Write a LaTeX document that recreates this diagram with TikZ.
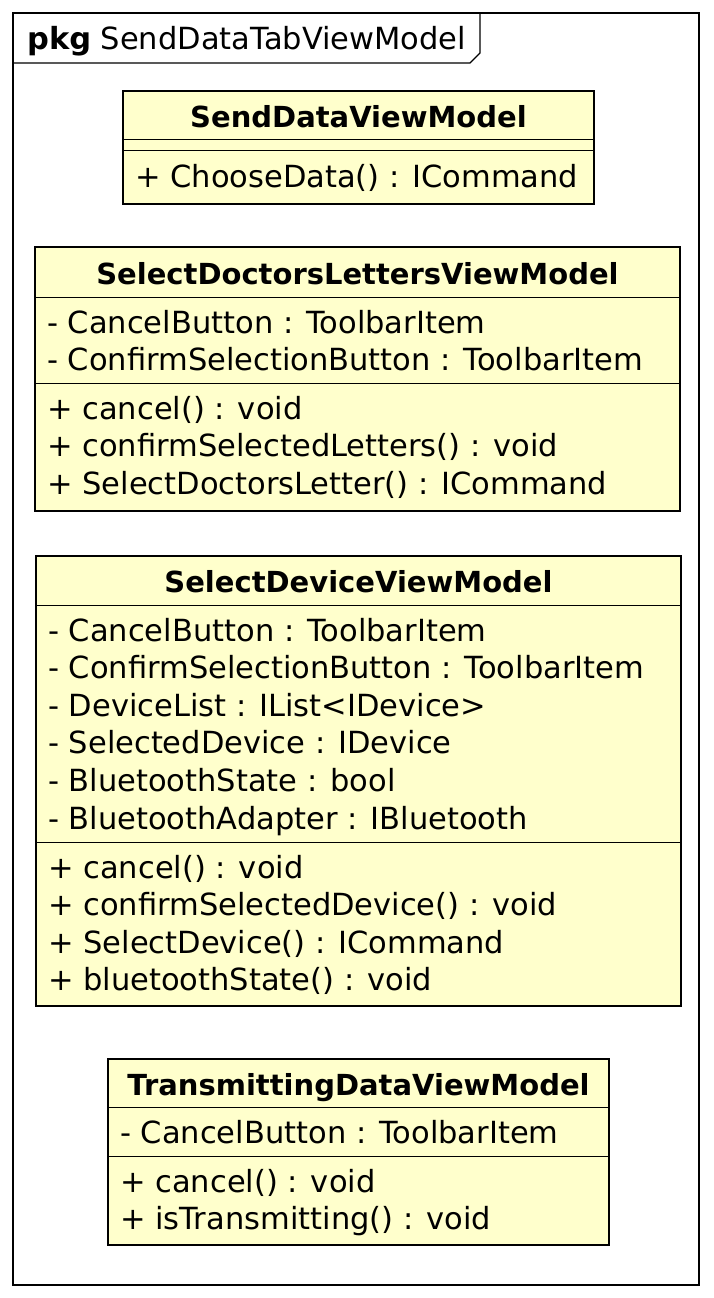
\documentclass[tikz,border=0pt]{standalone}
\usepackage{fontspec}
\setmainfont{DejaVu Sans}
\definecolor{umlfill}{HTML}{FFFFCC}
\tikzset{
  classbox/.style={draw, line width=2.9pt, fill=umlfill, anchor=north west, inner sep=0pt, outer sep=0pt},
  sepline/.style={line width=0.9pt},
  member/.style={anchor=base west, inner sep=0pt, font=\fontsize{30.5}{36}\selectfont},
  ctitle/.style={anchor=base, inner sep=0pt, font=\bfseries\fontsize{29}{36}\selectfont},
  frameline/.style={line width=1.3pt},
}
\begin{document}
\begin{tikzpicture}[x=1pt,y=-1pt]
\useasboundingbox (0,0) rectangle (713,1298);
% package frame
\node[draw, frameline, anchor=north west, minimum width=686pt, minimum height=1272pt, inner sep=0pt, outer sep=0pt] (pkg) at (13,13) {};
\coordinate (tabA) at (13,63);
\coordinate (tabB) at (470,63);
\coordinate (tabC) at (480,53);
\coordinate (tabD) at (480,13);
\draw[frameline] (tabA) -- (tabB) -- (tabC) -- (tabD);
\node[anchor=base west, inner sep=0pt, font=\fontsize{30.5}{36}\selectfont] (pkgname) at (27,50) {\textbf{pkg} SendDataTabViewModel};

% SendDataViewModel
\node[classbox, minimum width=471pt, minimum height=113pt] (b1) at (123,91) {};
\draw[sepline] ([yshift=-48pt]b1.north west) -- ([yshift=-48pt]b1.north east);
\draw[sepline] ([yshift=-59pt]b1.north west) -- ([yshift=-59pt]b1.north east);
\node[ctitle] (b1t) at (358.5,127) {SendDataViewModel};
\node[member] (b1m1) at (135,187) {+ ChooseData() : ICommand};

% SelectDoctorsLettersViewModel
\node[classbox, minimum width=645pt, minimum height=264pt] (b2) at (35,247) {};
\draw[sepline] ([yshift=-50pt]b2.north west) -- ([yshift=-50pt]b2.north east);
\draw[sepline] ([yshift=-136pt]b2.north west) -- ([yshift=-136pt]b2.north east);
\node[ctitle] (b2t) at (357.5,284) {SelectDoctorsLettersViewModel};
\node[member] (b2a1) at (47,333) {- CancelButton : ToolbarItem};
\node[member] (b2a2) at (47,370.6) {- ConfirmSelectionButton : ToolbarItem};
\node[member] (b2m1) at (47,419) {+ cancel() : void};
\node[member] (b2m2) at (47,456.6) {+ confirmSelectedLetters() : void};
\node[member] (b2m3) at (47,494.2) {+ SelectDoctorsLetter() : ICommand};

% SelectDeviceViewModel
\node[classbox, minimum width=645pt, minimum height=450pt] (b3) at (36,556) {};
\draw[sepline] ([yshift=-49pt]b3.north west) -- ([yshift=-49pt]b3.north east);
\draw[sepline] ([yshift=-286pt]b3.north west) -- ([yshift=-286pt]b3.north east);
\node[ctitle] (b3t) at (358.5,592) {SelectDeviceViewModel};
\node[member] (b3a1) at (48,641) {- CancelButton : ToolbarItem};
\node[member] (b3a2) at (48,678.6) {- ConfirmSelectionButton : ToolbarItem};
\node[member] (b3a3) at (48,716.2) {- DeviceList : IList<IDevice>};
\node[member] (b3a4) at (48,753.8) {- SelectedDevice : IDevice};
\node[member] (b3a5) at (48,791.4) {- BluetoothState : bool};
\node[member] (b3a6) at (48,829) {- BluetoothAdapter : IBluetooth};
\node[member] (b3m1) at (48,878) {+ cancel() : void};
\node[member] (b3m2) at (48,915.6) {+ confirmSelectedDevice() : void};
\node[member] (b3m3) at (48,953.2) {+ SelectDevice() : ICommand};
\node[member] (b3m4) at (48,990.8) {+ bluetoothState() : void};

% TransmittingDataViewModel
\node[classbox, minimum width=501pt, minimum height=186pt] (b4) at (108,1059) {};
\draw[sepline] ([yshift=-48pt]b4.north west) -- ([yshift=-48pt]b4.north east);
\draw[sepline] ([yshift=-97pt]b4.north west) -- ([yshift=-97pt]b4.north east);
\node[ctitle] (b4t) at (358.5,1095) {TransmittingDataViewModel};
\node[member] (b4a1) at (120,1143) {- CancelButton : ToolbarItem};
\node[member] (b4m1) at (120,1192) {+ cancel() : void};
\node[member] (b4m2) at (120,1229.6) {+ isTransmitting() : void};
\end{tikzpicture}
\end{document}
